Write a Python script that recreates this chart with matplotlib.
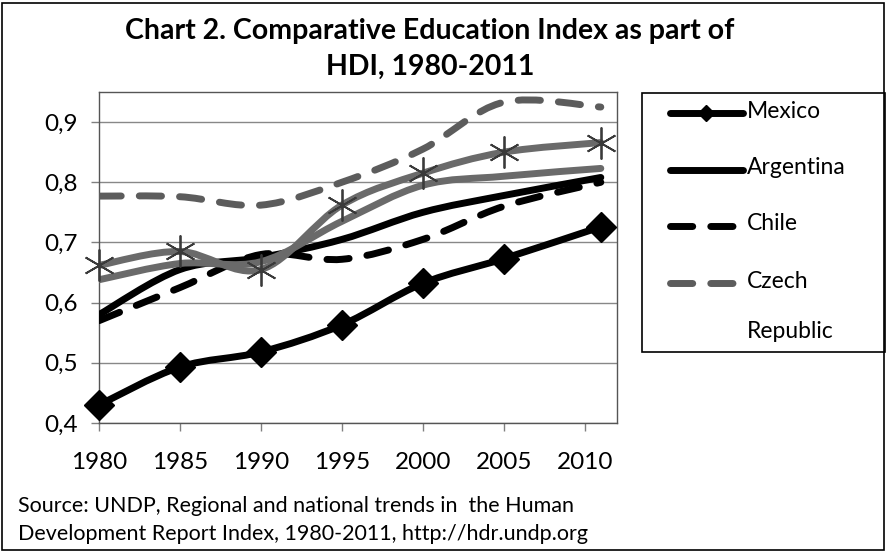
import numpy as np
import matplotlib
matplotlib.use("Agg")
import matplotlib.pyplot as plt
from matplotlib.path import Path
from matplotlib.patches import PathPatch, Rectangle
from matplotlib.lines import Line2D

plt.rcParams['font.family'] = ['Lato', 'DejaVu Sans']

years = [1980, 1985, 1990, 1995, 2000, 2005, 2011]
mexico = [0.430, 0.493, 0.518, 0.563, 0.632, 0.673, 0.726]
argentina = [0.580, 0.655, 0.675, 0.705, 0.750, 0.778, 0.808]
chile = [0.570, 0.625, 0.680, 0.672, 0.705, 0.760, 0.800]
czech = [0.777, 0.776, 0.762, 0.800, 0.855, 0.933, 0.925]
# two further series whose legend entries are cut off in the original
other_star = [0.662, 0.685, 0.655, 0.762, 0.815, 0.850, 0.866]
other_plain = [0.638, 0.665, 0.668, 0.735, 0.795, 0.810, 0.823]

title = "Chart 2. Comparative Education Index as part of\nHDI, 1980-2011"
source = ("Source: UNDP, Regional and national trends in  the Human\n"
          "Development Report Index, 1980-2011, http://hdr.undp.org")
legend_labels = ['Mexico', 'Argentina', 'Chile', 'Czech\nRepublic']


def smooth_path(xs, ys):
    # excel style smoothed line: cubic bezier through each point
    pts = np.column_stack([xs, ys]).astype(float)
    n = len(pts)
    verts = [pts[0]]
    codes = [Path.MOVETO]
    for i in range(n - 1):
        p_prev = pts[i - 1] if i > 0 else pts[i]
        p_next2 = pts[i + 2] if i + 2 < n else pts[i + 1]
        c1 = pts[i] + (pts[i + 1] - p_prev) / 6.0
        c2 = pts[i + 1] - (p_next2 - pts[i]) / 6.0
        verts += [c1, c2, pts[i + 1]]
        codes += [Path.CURVE4] * 3
    return Path(verts, codes)


def draw(ax, ys, color, ls, lw=5.0, z=2):
    ax.add_patch(PathPatch(smooth_path(years, ys), fill=False, edgecolor=color,
                           linewidth=lw, linestyle=ls, capstyle='round',
                           joinstyle='round', zorder=z))


W, H = 887, 552
fig = plt.figure(figsize=(W / 100, H / 100), dpi=100)
fig.patches.append(Rectangle((2 / W, 2 / H), 1 - 5 / W, 1 - 5 / H, transform=fig.transFigure,
                             fill=False, edgecolor='black', linewidth=1.2))

ax = fig.add_axes([99 / W, 1 - 423 / H, (617 - 99) / W, (423 - 92) / H])
ax.set_xlim(1980, 2012)
ax.set_ylim(0.4, 0.95)

dash = (0, (3.2, 2.6))
black = 'black'
grey_dash = '#5c5c5c'
grey = '#6a6a6a'
draw(ax, mexico, black, '-', z=3)
draw(ax, argentina, black, '-', z=3)
draw(ax, chile, black, dash, z=3)
draw(ax, czech, grey_dash, dash, z=4)
draw(ax, other_star, grey, '-', z=5)
draw(ax, other_plain, grey, '-', z=5)

ax.plot(years, mexico, linestyle='none', marker='D', markersize=15.5,
        color=black, zorder=6, clip_on=False)
ax.plot(years, other_star, linestyle='none', marker=(6, 2, 0), markersize=23,
        markeredgewidth=1.3, color='#3a3a3a', zorder=7, clip_on=False)

ax.set_xticks([1980, 1985, 1990, 1995, 2000, 2005, 2010])
yt = [0.4, 0.5, 0.6, 0.7, 0.8, 0.9]
ax.set_yticks(yt)
ax.set_yticklabels([f"{v:.1f}".replace('.', ',') for v in yt])
ax.tick_params(labelsize=17.5, length=6, width=1, color='#808080')
ax.tick_params(axis='x', pad=15)
ax.tick_params(axis='y', pad=9)
ax.grid(axis='y', color='#888888', linewidth=1)
ax.set_axisbelow(True)
for s in ax.spines.values():
    s.set_color('#555555')
    s.set_linewidth(1)

fig.text(430 / W, 1 - 49 / H, title, ha='center', va='center', fontsize=20.5,
         fontweight='bold', linespacing=1.45)
fig.text(18 / W, 1 - 520 / H, source, ha='left', va='center', fontsize=15.5,
         linespacing=1.5)

# legend box drawn by hand so the spacing follows the original
fig.patches.append(Rectangle((642 / W, 1 - 352 / H), (885 - 642) / W, (352 - 93) / H,
                             transform=fig.transFigure, fill=False,
                             edgecolor='black', linewidth=1.2, zorder=5))
leg_styles = [
    dict(color=black, linestyle='-', marker='D', markersize=8, markevery=[1]),
    dict(color=black, linestyle='-'),
    dict(color=black, linestyle=dash),
    dict(color=grey_dash, linestyle=dash),
]
leg_y = [113, 170, 226, 283]
for lab, st, y in zip(legend_labels, leg_styles, leg_y):
    fig.add_artist(Line2D([670 / W, 706.5 / W, 743 / W], [1 - y / H] * 3,
                          transform=fig.transFigure, lw=5,
                          solid_capstyle='round', dash_capstyle='round', **st))
    for k, part in enumerate(lab.split('\n')):
        fig.text(747 / W, 1 - (y - 2 + 51 * k) / H, part, ha='left', va='center',
                 fontsize=16.5)

fig.savefig('out.png', dpi=100)
